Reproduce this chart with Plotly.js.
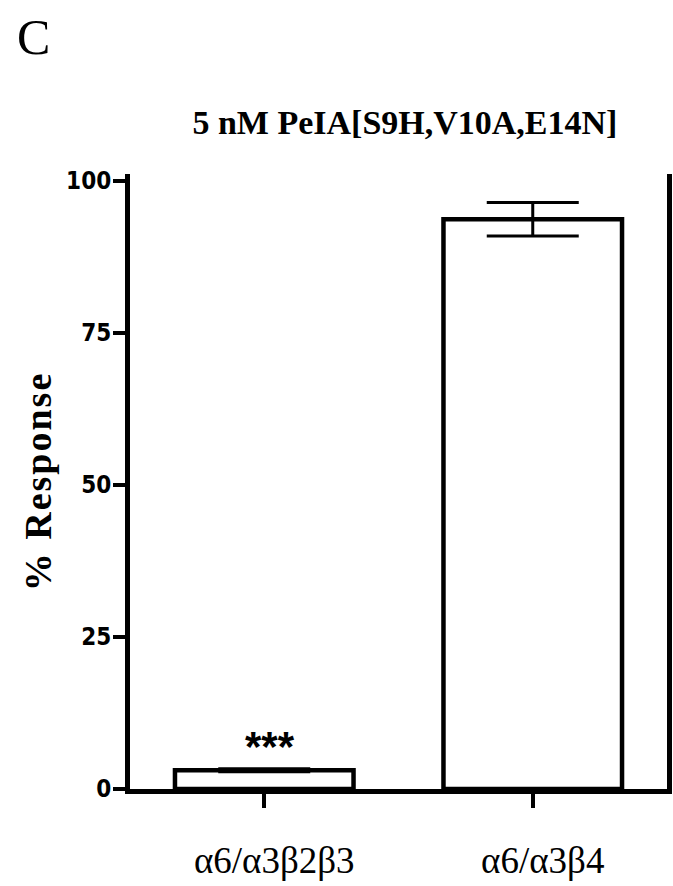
<!DOCTYPE html>
<html>
<head>
<meta charset="utf-8">
<script src="https://cdn.plot.ly/plotly-3.0.1.min.js"></script>
<style>
  html, body { margin: 0; padding: 0; background: #fff; }
  #chart { width: 673px; height: 886px; }
  .ytitle { letter-spacing: 2px; }
</style>
</head>
<body>
<div id="chart"></div>
<script>
// Data
const categories = ["α6/α3β2β3", "α6/α3β4"];
const responses = [3.1, 93.7];
const errors = [0.25, 2.75];
const significance = ["***", ""];
const yTickValues = [0, 25, 50, 75, 100];
const yTickLabels = ["0", "25", "50", "75", "100"];
const panelLabel = "C";
const chartTitle = "5 nM PeIA[S9H,V10A,E14N]";
const yTitle = "% Response";

const serif = "Liberation Serif, Times New Roman, serif";
const narrow = "Liberation Sans Narrow, Arial Narrow, DejaVu Sans Condensed, sans-serif";

const trace = {
  type: "bar",
  x: [0, 1],
  y: responses,
  width: 0.665,
  marker: { color: "#ffffff", line: { color: "#000000", width: 4.5 } },
  error_y: { type: "data", array: errors, visible: true, color: "#000000", thickness: 3, width: 46 },
  hoverinfo: "none"
};

const annotations = [
  {
    text: panelLabel, xref: "paper", yref: "paper",
    x: -0.214, y: 1.223, xanchor: "left", yanchor: "middle",
    showarrow: false, font: { family: serif, size: 50, color: "#000" }
  }
];
significance.forEach((s, i) => {
  if (s) {
    annotations.push({
      text: s, x: i, y: responses[i] + errors[i], xref: "x", yref: "y",
      yanchor: "bottom", xanchor: "center", xshift: 6, yshift: -3,
      showarrow: false,
      font: { family: "Liberation Sans, Arial, sans-serif", size: 42, color: "#000", weight: "bold" }
    });
  }
});

const layout = {
  width: 673, height: 886,
  margin: { l: 130, r: 6, t: 174, b: 96.5, autoexpand: false },
  paper_bgcolor: "#ffffff", plot_bgcolor: "#ffffff",
  showlegend: false,
  title: {
    text: "<b>" + chartTitle + "</b>",
    xref: "paper", x: 0.512, xanchor: "center",
    yref: "container", y: 0.862, yanchor: "middle",
    font: { family: serif, size: 34, color: "#000" }
  },
  xaxis: {
    range: [-0.5, 1.5],
    tickmode: "array", tickvals: [0, 1], ticktext: categories,
    showline: true, linecolor: "#000", linewidth: 5,
    ticks: "outside", ticklen: 14, tickwidth: 4, tickcolor: "#000",
    showgrid: false, zeroline: false,
    ticklabelstandoff: 21,
    ticklabelshift: 10,
    tickfont: { family: serif, size: 37, color: "#000" },
    fixedrange: true
  },
  yaxis: {
    range: [0, 101.15],
    tickmode: "array", tickvals: yTickValues, ticktext: yTickLabels,
    showline: true, linecolor: "#000", linewidth: 5, mirror: true,
    ticks: "outside", ticklen: 12, tickwidth: 4, tickcolor: "#000",
    showgrid: false, zeroline: false,
    ticklabelstandoff: -3,
    tickfont: { family: narrow, size: 24, color: "#000", weight: "bold" },
    title: {
      text: "<b>" + yTitle + "</b>",
      standoff: 4,
      font: { family: serif, size: 38, color: "#000" }
    },
    fixedrange: true
  },
  annotations: annotations
};

Plotly.newPlot("chart", [trace], layout, { displayModeBar: false, staticPlot: true });
</script>
</body>
</html>
